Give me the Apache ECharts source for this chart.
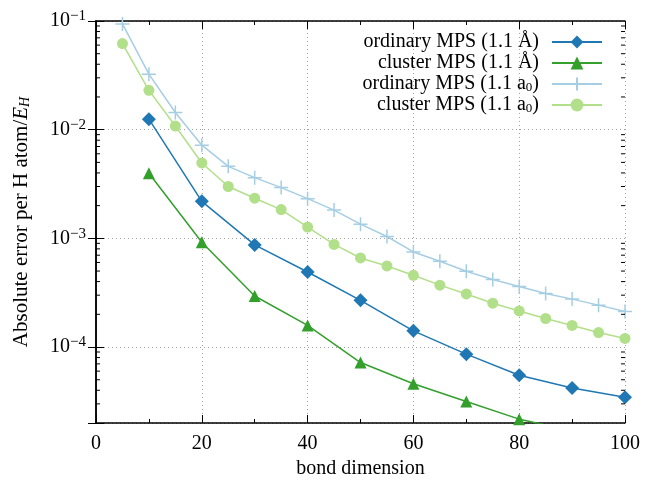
<!DOCTYPE html>
<html><head><meta charset="utf-8">
<script src="https://cdn.jsdelivr.net/npm/echarts@6/dist/echarts.min.js"></script>
<style>html,body{margin:0;padding:0;background:#fff}#c{width:650px;height:481px}</style>
</head><body><div id="c"></div>
<script>
// bond dimensions
const dimsStep10 = [10, 20, 30, 40, 50, 60, 70, 80, 90, 100];
const dimsStep5 = [5, 10, 15, 20, 25, 30, 35, 40, 45, 50, 55, 60, 65, 70, 75, 80, 85, 90, 95, 100];
// absolute error per H atom / E_H
const ordinaryAng = [1.25e-2, 2.19e-3, 8.7e-4, 4.9e-4, 2.69e-4, 1.41e-4, 8.6e-5, 5.5e-5, 4.2e-5, 3.45e-5];
const clusterAng = [3.97e-3, 9.2e-4, 2.95e-4, 1.58e-4, 7.2e-5, 4.6e-5, 3.15e-5, 2.17e-5, 1.7e-5, 1.35e-5];
const ordinaryA0 = [9.4e-2, 3.24e-2, 1.44e-2, 7.2e-3, 4.6e-3, 3.62e-3, 2.93e-3, 2.32e-3, 1.82e-3, 1.35e-3,
  1.04e-3, 7.5e-4, 6.15e-4, 4.98e-4, 4.18e-4, 3.61e-4, 3.11e-4, 2.76e-4, 2.43e-4, 2.12e-4];
const clusterA0 = [6.2e-2, 2.3e-2, 1.08e-2, 4.94e-3, 3.0e-3, 2.34e-3, 1.84e-3, 1.27e-3, 8.8e-4, 6.6e-4,
  5.57e-4, 4.57e-4, 3.71e-4, 3.08e-4, 2.53e-4, 2.15e-4, 1.83e-4, 1.58e-4, 1.36e-4, 1.2e-4];
const seriesNames = ['ordinary MPS (1.1 Å)', 'cluster MPS (1.1 Å)', 'ordinary MPS (1.1 a0)', 'cluster MPS (1.1 a0)'];
const seriesColors = ['#1f78b4', '#33a02c', '#a6cee3', '#b2df8a'];
const xMin = 0, xMax = 100, xStep = 20;
const yMin = 2e-5, yMax = 0.1;
const yMinorTicks = [3e-5,4e-5,5e-5,6e-5,7e-5,8e-5,9e-5,
  2e-4,3e-4,4e-4,5e-4,6e-4,7e-4,8e-4,9e-4,
  2e-3,3e-3,4e-3,5e-3,6e-3,7e-3,8e-3,9e-3,
  2e-2,3e-2,4e-2,5e-2,6e-2,7e-2,8e-2,9e-2];

const FONT = 'Liberation Serif';
const zip = (xs, ys) => xs.map((x, i) => [x, ys[i]]);
const plusPath = 'path://M5,0L5,10M0,5L10,5';

const legendRich = {
  t: {fontFamily: FONT, fontSize: 20, color: '#000'},
  s: {fontFamily: FONT, fontSize: 13, color: '#000', verticalAlign: 'bottom', lineHeight: 14}
};
function legendFmt(name) {
  if (name.endsWith('a0)')) return '{t|' + name.slice(0, -3) + 'a}{s|0}{t|)}';
  return '{t|' + name + '}';
}

const chart = echarts.init(document.getElementById('c'), null, {renderer: 'canvas'});
const gridStyle = {show: true, lineStyle: {color: '#a0a0a0', type: [1, 3], width: 1}};
const axisLine = {show: true, lineStyle: {color: '#000', width: 1.5}};

const option = {
  animation: false,
  backgroundColor: '#fff',
  grid: {left: 96, right: 25, top: 21, bottom: 58, containLabel: false, outerBoundsMode: 'none'},
  legend: seriesNames.map((n, i) => ({
    data: [n], right: 47, top: 32 + i * 21, padding: 0, align: 'right',
    itemWidth: 50, itemHeight: 16, selectedMode: false,
    formatter: legendFmt,
    textStyle: {fontFamily: FONT, fontSize: 20, color: '#000', padding: [0, 8, 0, 0], rich: legendRich}
  })),
  xAxis: [{
    type: 'value', min: xMin, max: xMax, interval: xStep, position: 'bottom',
    name: 'bond dimension', nameLocation: 'middle', nameGap: 35,
    nameTextStyle: {fontFamily: FONT, fontSize: 20, color: '#000'},
    axisLine: axisLine,
    axisTick: {show: true, inside: true, length: 8, lineStyle: {color: '#000', width: 1}},
    minorTick: {show: true, splitNumber: 2, length: 4, lineStyle: {color: '#000', width: 1}},
    axisLabel: {fontFamily: FONT, fontSize: 20, color: '#000', margin: 11},
    splitLine: gridStyle
  }, {
    type: 'value', min: xMin, max: xMax, interval: xStep, position: 'top',
    axisLine: axisLine,
    axisTick: {show: true, inside: true, length: 8, lineStyle: {color: '#000', width: 1}},
    minorTick: {show: true, splitNumber: 2, length: 4, lineStyle: {color: '#000', width: 1}},
    axisLabel: {show: false}, splitLine: {show: false}
  }],
  yAxis: [{
    type: 'log', min: yMin, max: yMax, position: 'left',
    name: '{n|Absolute error per H atom/}{i|E}{is|H}', nameLocation: 'middle', nameGap: 64,
    nameTextStyle: {
      fontFamily: FONT, fontSize: 21, color: '#000', padding: [0, 0, 0, 0],
      rich: {
        n: {fontFamily: FONT, fontSize: 21, color: '#000'},
        i: {fontFamily: FONT, fontSize: 21, color: '#000', fontStyle: 'italic'},
        is: {fontFamily: FONT, fontSize: 14, color: '#000', fontStyle: 'italic', verticalAlign: 'bottom', lineHeight: 14}
      }
    },
    axisLine: axisLine,
    axisTick: {show: true, inside: true, length: 8, lineStyle: {color: '#000', width: 1}},
    axisLabel: {
      margin: 10,
      formatter: v => {
        const l = Math.log10(v), e = Math.round(l);
        if (Math.abs(l - e) > 1e-6) return '';
        return '{b|10}{s|−' + (-e) + '}';
      },
      rich: {
        b: {fontFamily: FONT, fontSize: 20, color: '#000', lineHeight: 24},
        s: {fontFamily: FONT, fontSize: 15, color: '#000', verticalAlign: 'top', lineHeight: 14}
      }
    },
    splitLine: gridStyle
  }, {
    type: 'log', min: yMin, max: yMax, position: 'right',
    axisLine: axisLine,
    axisTick: {show: true, inside: true, length: 8, lineStyle: {color: '#000', width: 1}},
    axisLabel: {show: false}, splitLine: {show: false}
  }],
  series: [
    {
      name: seriesNames[0], type: 'line', data: zip(dimsStep10, ordinaryAng),
      symbol: 'diamond', symbolSize: 14, color: seriesColors[0],
      lineStyle: {width: 1.5, color: seriesColors[0]}, itemStyle: {color: seriesColors[0]}, z: 4
    },
    {
      name: seriesNames[1], type: 'line', data: zip(dimsStep10, clusterAng),
      symbol: 'triangle', symbolSize: 12, color: seriesColors[1],
      lineStyle: {width: 1.5, color: seriesColors[1]}, itemStyle: {color: seriesColors[1]}, z: 4
    },
    {
      name: seriesNames[2], type: 'line', data: zip(dimsStep5, ordinaryA0),
      symbol: plusPath, symbolSize: 14, color: seriesColors[2],
      lineStyle: {width: 1.5, color: seriesColors[2]},
      itemStyle: {color: seriesColors[2], borderColor: seriesColors[2], borderWidth: 1.5}, z: 3
    },
    {
      name: seriesNames[3], type: 'line', data: zip(dimsStep5, clusterA0),
      symbol: 'circle', symbolSize: 11, color: seriesColors[3],
      lineStyle: {width: 1.5, color: seriesColors[3]}, itemStyle: {color: seriesColors[3]}, z: 3
    },
    {
      type: 'custom', silent: true, clip: false, z: 6,
      data: yMinorTicks.map(v => [xMin, v]),
      renderItem: (params, api) => {
        const v = api.value(1);
        const pl = api.coord([xMin, v]), pr = api.coord([xMax, v]);
        const st = {stroke: '#000', lineWidth: 1};
        return {type: 'group', children: [
          {type: 'line', shape: {x1: pl[0], y1: pl[1], x2: pl[0] + 4, y2: pl[1]}, style: st},
          {type: 'line', shape: {x1: pr[0] - 4, y1: pr[1], x2: pr[0], y2: pr[1]}, style: st}
        ]};
      }
    }
  ]
};
chart.setOption(option);
</script>
</body></html>
